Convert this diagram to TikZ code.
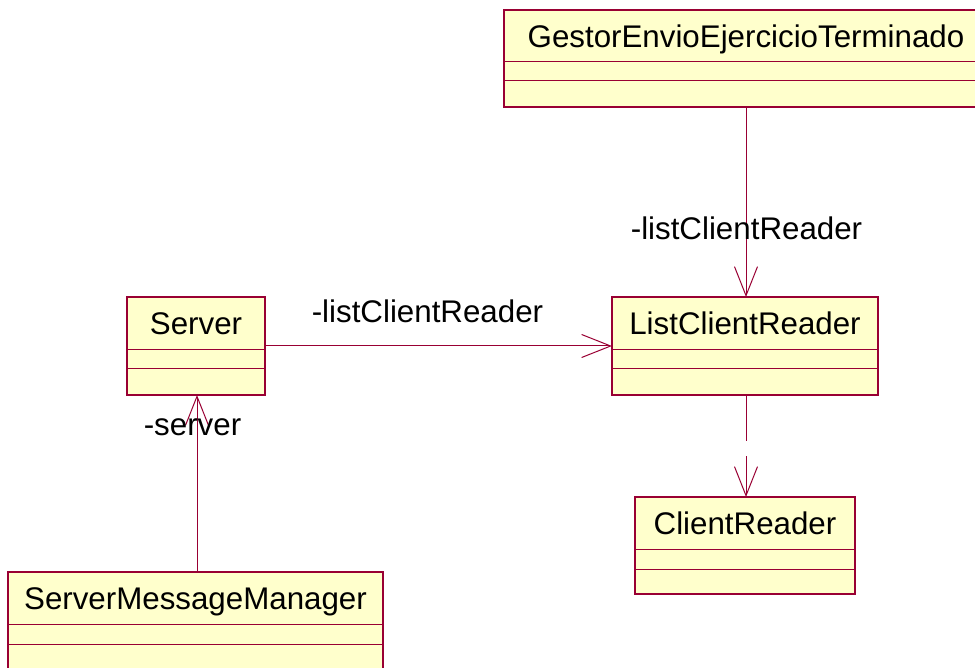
\documentclass[tikz,border=0pt]{standalone}
\usepackage{fontspec}
\setmainfont{Liberation Sans}
\usetikzlibrary{arrows.meta}
\definecolor{umlline}{RGB}{153,0,51}
\definecolor{umlfill}{RGB}{255,255,204}

% class box: name, x1, y1, x2, y2, first compartment line, second compartment line, class name
\newcommand{\umlclass}[8]{%
  \node[classbox, minimum width={#4-#2}, minimum height={#5-#3}] (#1) at ({(#2+#4)/2},{(#3+#5)/2}) {};
  \draw[compline] (#2,#6) -- (#4,#6);
  \draw[compline] (#2,#7) -- (#4,#7);
  \node[classname] (#1-name) at ({(#2+#4)/2},{(#3+#6)/2+11.2}) {#8};
}

\begin{document}
\begin{tikzpicture}[x=1pt,y=-1pt,
  classbox/.style={draw=umlline, fill=umlfill, line width=1.4pt, inner sep=0pt, outer sep=0pt},
  compline/.style={draw=umlline, line width=1pt},
  classname/.style={anchor=base, inner sep=0pt, font=\fontsize{31.3}{36}\selectfont},
  rolelabel/.style={anchor=base, inner sep=0pt, font=\fontsize{31.3}{36}\selectfont},
  assoc/.style={draw=umlline, line width=1pt, -{Straight Barb[length=29pt,width=23pt,line width=1pt]}},
]
\useasboundingbox (0,0) rectangle (975,668);
\clip (0,0) rectangle (975,668);

% classes
\umlclass{gestor}{504}{10}{988}{107}{62}{81}{GestorEnvioEjercicioTerminado}
\umlclass{srv}{127}{297}{265}{395}{350}{369}{Server}
\umlclass{lcr}{612}{297}{878}{395}{350}{369}{ListClientReader}
\umlclass{cr}{635}{497}{855}{594}{549}{569}{ClientReader}
\umlclass{smm}{8}{572}{383}{670}{624}{644}{ServerMessageManager}

% associations
\draw[assoc] (gestor.south) -- (gestor.south |- lcr.north);
\draw[assoc] (srv.east) -- (srv.east -| lcr.west);
\draw[assoc] ([xshift=1.5pt]smm.north) -- ([xshift=1.5pt]smm.north |- srv.south);
\draw[assoc, dash pattern=on 46pt off 15pt on 200pt] ([xshift=1pt]lcr.south) -- ([xshift=1pt]cr.north);

% role names
\node[rolelabel] (lbltop) at (746.5,240) {-listClientReader};
\node[rolelabel] (lblmid) at (427.5,323) {-listClientReader};
\node[rolelabel] (lblsrv) at (192.5,435) {-server};
\end{tikzpicture}
\end{document}
